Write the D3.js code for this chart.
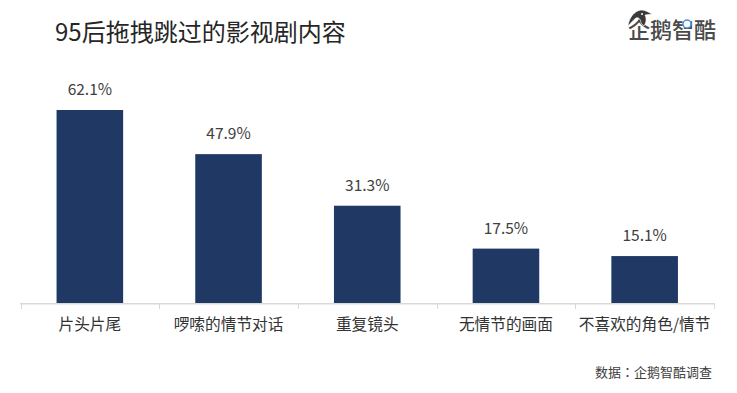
<!DOCTYPE html>
<html>
<head>
<meta charset="utf-8">
<script src="https://cdn.jsdelivr.net/npm/d3@7"></script>
<style>
html, body { margin: 0; padding: 0; background: #fff; }
text { font-family: "Noto Sans CJK SC", "Noto Sans", sans-serif; }
</style>
</head>
<body>
<svg id="chart"></svg>
<script>
const width = 737;
const height = 393;

const categories = ["片头片尾", "啰嗦的情节对话", "重复镜头", "无情节的画面", "不喜欢的角色/情节"];
const shares = [62.1, 47.9, 31.3, 17.5, 15.1];

const svg = d3.select("#chart")
    .attr("width", width)
    .attr("height", height)
    .attr("viewBox", `0 0 ${width} ${height}`)
    .style("display", "block");

const x = d3.scaleBand().domain(categories).range([20.5, 714]).paddingInner(0.52).paddingOuter(0.26);
const y = d3.scaleLinear().domain([0, 62.1]).range([303, 110]);

svg.append("text").attr("x", 55).attr("y", 41)
    .attr("font-size", 24).attr("fill", "#262626").text("95后拖拽跳过的影视剧内容");

svg.selectAll("rect.bar").data(shares).enter().append("rect")
    .attr("class", "bar")
    .attr("x", (d, i) => x(categories[i]))
    .attr("y", d => y(d))
    .attr("width", x.bandwidth())
    .attr("height", d => y(0) - y(d))
    .attr("fill", "#1f3864");

svg.selectAll("text.value").data(shares).enter().append("text")
    .attr("class", "value")
    .attr("x", (d, i) => x(categories[i]) + x.bandwidth() / 2)
    .attr("y", d => y(d) - 15)
    .attr("text-anchor", "middle").attr("font-size", 15.5).attr("fill", "#404040")
    .text(d => d + "%");

// axis line with ticks between the categories
const axisG = svg.append("g");
axisG.append("line").attr("x1", 20).attr("x2", 714.5).attr("y1", 303.7).attr("y2", 303.7)
    .attr("stroke", "#d9d9d9").attr("stroke-width", 1.4);
d3.range(categories.length + 1).forEach(i => {
    const tx = Math.round(20.5 + i * x.step()) + 0.5;
    axisG.append("line").attr("x1", tx).attr("x2", tx).attr("y1", 303).attr("y2", 309).attr("stroke", "#d9d9d9");
});

svg.selectAll("text.cat").data(categories).enter().append("text")
    .attr("class", "cat")
    .attr("x", d => x(d) + x.bandwidth() / 2)
    .attr("y", 330)
    .attr("text-anchor", "middle").attr("font-size", 15.7).attr("fill", "#333")
    .text(d => d);

// the TC colon sits centred in its box, as in the picture
const source = svg.append("text").attr("x", 712).attr("y", 377).attr("text-anchor", "end")
    .attr("font-size", 13).attr("fill", "#404040");
source.append("tspan").text("数据");
source.append("tspan").style("font-family", '"Noto Sans CJK TC"').text("：");
source.append("tspan").text("企鹅智酷调查");

// logo: wordmark, penguin on top of it, blue ring on the third character
const logo = svg.append("g");
logo.append("text").attr("x", 716).attr("y", 38).attr("text-anchor", "end")
    .attr("font-size", 22).attr("font-weight", 500).attr("fill", "#4a4a4a").text("企鹅智酷");
logo.append("path")
    .attr("d", "M628 26 C629 18 634 11 641 10 C645 10 648 12 652 14 L645 15 C647 19 646 23 644 26 L641 23 C641 19 638 17 636 18 C633 20 631 23 628 26 Z")
    .attr("fill", "#3a3a3a").attr("stroke", "#fff").attr("stroke-width", 0.6);
logo.append("circle").attr("cx", 642).attr("cy", 14).attr("r", 1).attr("fill", "#fff");
logo.append("circle").attr("cx", 687).attr("cy", 24).attr("r", 4)
    .attr("fill", "#fff").attr("stroke", "#4a90e2").attr("stroke-width", 1.5);
</script>
</body>
</html>
